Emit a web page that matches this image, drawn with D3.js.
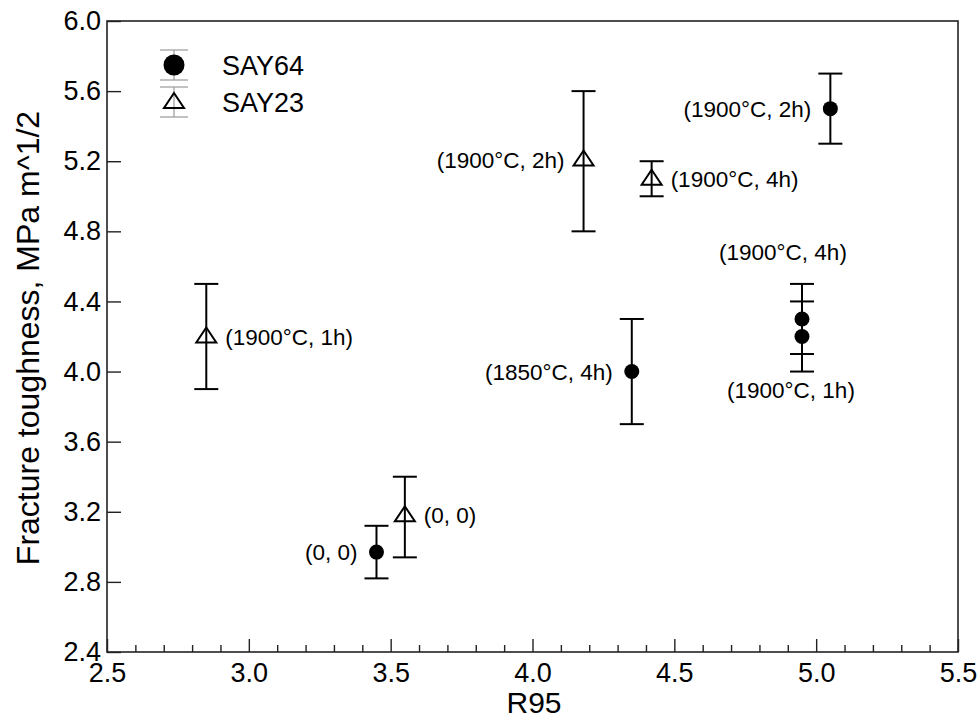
<!DOCTYPE html>
<html>
<head>
<meta charset="utf-8">
<script src="https://cdn.jsdelivr.net/npm/d3@7"></script>
<style>
  body { margin: 0; background: #fff; }
  svg text { font-family: "Liberation Sans", Arial, sans-serif; fill: #000; }
</style>
</head>
<body>
<svg id="chart" width="980" height="720"></svg>
<script>
// ---- data ----
var seriesNames = ["SAY64", "SAY23"];

// SAY64, filled circles
var say64_x    = [3.45, 4.35, 4.95, 4.95, 5.05];
var say64_y    = [2.97, 4.00, 4.30, 4.20, 5.50];
var say64_lo   = [2.82, 3.70, 4.10, 4.00, 5.30];
var say64_hi   = [3.12, 4.30, 4.50, 4.40, 5.70];
var say64_text = ["(0, 0)", "(1850°C, 4h)", "(1900°C, 4h)", "(1900°C, 1h)", "(1900°C, 2h)"];
var say64_side = ["left", "left", "above", "below", "left"];

// SAY23, open triangles
var say23_x    = [2.85, 3.55, 4.18, 4.42];
var say23_y    = [4.20, 3.18, 5.21, 5.10];
var say23_lo   = [3.90, 2.94, 4.80, 5.00];
var say23_hi   = [4.50, 3.40, 5.60, 5.20];
var say23_text = ["(1900°C, 1h)", "(0, 0)", "(1900°C, 2h)", "(1900°C, 4h)"];
var say23_side = ["right", "right", "left", "right"];

var xTicks = [2.5, 3.0, 3.5, 4.0, 4.5, 5.0, 5.5];
var yTicks = [2.4, 2.8, 3.2, 3.6, 4.0, 4.4, 4.8, 5.2, 5.6, 6.0];

var xTitle = "R95";
var yTitle = "Fracture toughness, MPa m^1/2";

// ---- layout ----
var plot = {left: 107, right: 958, top: 21, bottom: 652};

var svg = d3.select("#chart");

var x = d3.scaleLinear().domain([2.5, 5.5]).range([plot.left, plot.right]);
var y = d3.scaleLinear().domain([2.4, 6.0]).range([plot.bottom, plot.top]);

// frame
svg.append("rect")
    .attr("x", plot.left).attr("y", plot.top)
    .attr("width", plot.right - plot.left).attr("height", plot.bottom - plot.top)
    .attr("fill", "none").attr("stroke", "#222").attr("stroke-width", 1.6);

// minor x ticks every 0.1
var minorTicks = d3.range(26, 55).map(function (d) { return d / 10; })
    .filter(function (d) { return Math.abs(d * 2 - Math.round(d * 2)) > 1e-6; });

var xMinor = svg.append("g").attr("transform", "translate(0," + plot.bottom + ")")
    .call(d3.axisBottom(x).tickValues(minorTicks).tickSize(-7).tickFormat(""));
xMinor.call(g => g.select(".domain").remove());

var xAxis = svg.append("g").attr("transform", "translate(0," + plot.bottom + ")")
    .call(d3.axisBottom(x).tickValues(xTicks).tickSize(-13).tickPadding(11).tickFormat(d3.format(".1f")));
xAxis.call(g => g.select(".domain").remove());

var yAxis = svg.append("g").attr("transform", "translate(" + plot.left + ",0)")
    .call(d3.axisLeft(y).tickValues(yTicks).tickSize(-14).tickPadding(6).tickFormat(d3.format(".1f")));
yAxis.call(g => g.select(".domain").remove());

svg.selectAll(".tick line").attr("stroke", "#222").attr("stroke-width", 1.4);
svg.selectAll(".tick text").attr("font-size", 27).attr("font-family", "Liberation Sans, Arial, sans-serif").attr("fill", "#000");

// axis titles
svg.append("text")
    .attr("x", 534).attr("y", 713)
    .attr("text-anchor", "middle").attr("font-size", 30)
    .text(xTitle);

svg.append("text")
    .attr("transform", "translate(39,338) rotate(-90)")
    .attr("text-anchor", "middle").attr("font-size", 32)
    .text(yTitle);

// ---- data marks ----
function makeRows(xs, ys, lo, hi, txt, side) {
    return xs.map(function (v, i) {
        return {x: v, y: ys[i], lo: lo[i], hi: hi[i], text: txt[i], side: side[i]};
    });
}

var rows64 = makeRows(say64_x, say64_y, say64_lo, say64_hi, say64_text, say64_side);
var rows23 = makeRows(say23_x, say23_y, say23_lo, say23_hi, say23_text, say23_side);

function drawErrorBars(rows, cls) {
    var g = svg.append("g").attr("class", cls);
    var bars = g.selectAll("g").data(rows).join("g");
    bars.append("line")
        .attr("x1", d => x(d.x)).attr("x2", d => x(d.x))
        .attr("y1", d => y(d.lo)).attr("y2", d => y(d.hi));
    bars.append("line")
        .attr("x1", d => x(d.x) - 12).attr("x2", d => x(d.x) + 12)
        .attr("y1", d => y(d.lo)).attr("y2", d => y(d.lo));
    bars.append("line")
        .attr("x1", d => x(d.x) - 12).attr("x2", d => x(d.x) + 12)
        .attr("y1", d => y(d.hi)).attr("y2", d => y(d.hi));
    g.selectAll("line").attr("stroke", "#000").attr("stroke-width", 2);
}

drawErrorBars(rows64, "err64");
drawErrorBars(rows23, "err23");

var trianglePath = "M0,-9L10,6L-10,6Z";

svg.append("g").selectAll("circle").data(rows64).join("circle")
    .attr("cx", d => x(d.x)).attr("cy", d => y(d.y)).attr("r", 7.5)
    .attr("fill", "#000");

svg.append("g").selectAll("path").data(rows23).join("path")
    .attr("d", trianglePath)
    .attr("transform", d => "translate(" + x(d.x) + "," + y(d.y) + ")")
    .attr("fill", "none").attr("stroke", "#000").attr("stroke-width", 2)
    .attr("stroke-linejoin", "miter");

// point labels
function drawLabels(rows) {
    svg.append("g").selectAll("text").data(rows).join("text")
        .attr("font-size", 22.5)
        .attr("x", function (d) {
            if (d.side === "left") return x(d.x) - 19;
            if (d.side === "right") return x(d.x) + 19;
            if (d.side === "above") return x(d.x) - 19;
            return x(d.x) - 11;
        })
        .attr("y", function (d) {
            if (d.side === "above") return y(d.y) - 67;
            if (d.side === "below") return y(d.y) + 53;
            return y(d.y);
        })
        .attr("dy", "0.36em")
        .attr("text-anchor", function (d) {
            if (d.side === "left") return "end";
            if (d.side === "right") return "start";
            return "middle";
        })
        .text(d => d.text);
}
drawLabels(rows64);
drawLabels(rows23);

// ---- legend ----
var legend = svg.append("g").attr("transform", "translate(174,0)");
var legendY = [65, 102];

legend.selectAll("g.item").data(seriesNames).join("g")
    .attr("class", "item")
    .attr("transform", (d, i) => "translate(0," + legendY[i] + ")")
    .each(function (d, i) {
        var g = d3.select(this);
        g.append("line").attr("x1", 0).attr("x2", 0).attr("y1", -15).attr("y2", 15);
        g.append("line").attr("x1", -14).attr("x2", 14).attr("y1", -15).attr("y2", -15);
        g.append("line").attr("x1", -14).attr("x2", 14).attr("y1", 15).attr("y2", 15);
        g.selectAll("line").attr("stroke", "#999").attr("stroke-width", 1.2);
        if (i === 0) {
            g.append("circle").attr("r", 10.5).attr("fill", "#000");
        } else {
            g.append("path").attr("d", trianglePath).attr("fill", "none")
                .attr("stroke", "#000").attr("stroke-width", 2);
        }
        g.append("text").attr("x", 48).attr("y", 0).attr("dy", "0.36em")
            .attr("font-size", 27).text(d);
    });
</script>
</body>
</html>
